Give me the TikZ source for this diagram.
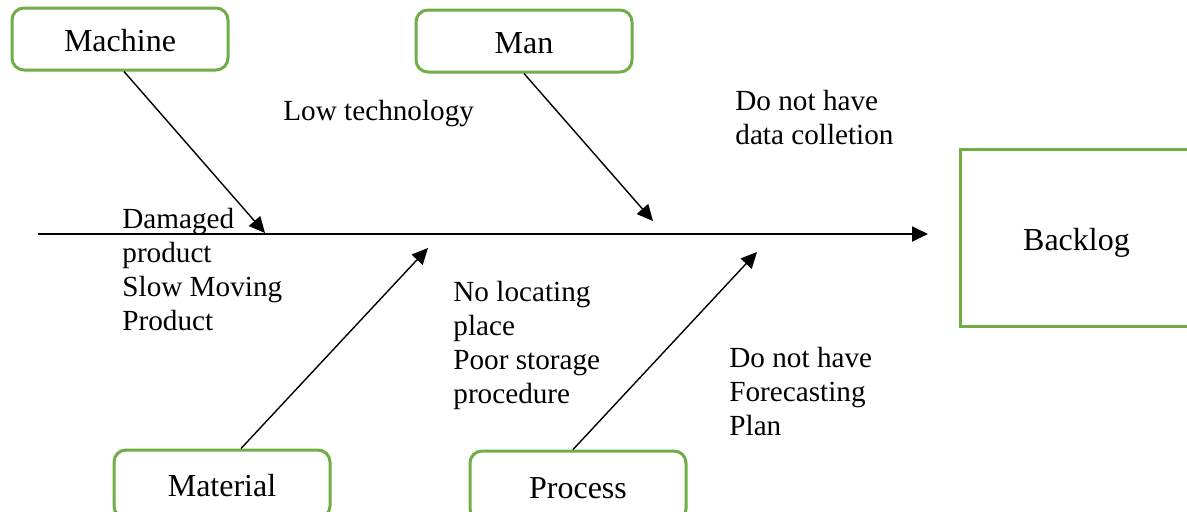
\documentclass[tikz,border=0pt]{standalone}
\usepackage{fontspec}
\setmainfont{Liberation Serif}
\usetikzlibrary{arrows.meta}

\definecolor{boxgreen}{RGB}{112,173,71}

\tikzset{
    cause/.style={draw=boxgreen,line width=1.5pt,rounded corners=6pt,
        minimum width=108pt,minimum height=31pt,inner sep=0pt,
        text height=12pt,text depth=0pt,font=\fontsize{16}{17}\selectfont},
    effect/.style={draw=boxgreen,line width=1.5pt,
        minimum width=116pt,minimum height=88.5pt,inner sep=0pt,
        text height=12pt,text depth=0pt,font=\fontsize{16}{17}\selectfont},
    note/.style={anchor=west,align=left,inner sep=0pt,font=\fontsize{14.6}{17}\selectfont},
    bone/.style={line width=0.7pt,-{Triangle[length=8pt,width=7.5pt]}}
}

\begin{document}
\begin{tikzpicture}[x=0.5pt,y=-0.5pt]

\clip (0,0) rectangle (1187,511);

% Boxes
\node[cause] (machine) at (120,39) {Machine};
\node[cause] (man) at (524,41) {Man};
\node[cause,minimum height=34pt] (material) at (222,484) {Material};
\node[cause,minimum height=35pt] (process) at (578,486) {Process};
\node[effect,anchor=north west] (backlog) at (959,148) {Backlog};

% Spine
\coordinate (tail) at (38,234);
\draw[bone,line width=0.9pt] (tail) -- ([xshift=-15.5pt]backlog.west |- tail);

% Bones
\coordinate (machineend) at (265,233);
\coordinate (manend) at (653,221);
\coordinate (materialend) at (428,248);
\coordinate (processend) at (757,252);
\draw[bone] ([xshift=2pt]machine.south) -- (machineend);
\draw[bone] (man.south) -- (manend);
\draw[bone] ([xshift=9.5pt]material.north) -- (materialend);
\draw[bone] ([xshift=-2.5pt]process.north) -- (processend);

% Notes
\node[note] (lowtech) at (283,114) {Low technology};
\node[note] (datanote) at (735,117) {Do not have\\data colletion};
\node[note] (damaged) at (122,269) {Damaged\\product\\Slow Moving\\Product};
\node[note] (storage) at (453,345) {No locating\\place\\Poor storage\\procedure};
\node[note] (forecast) at (729,391) {Do not have\\Forecasting\\Plan};

\end{tikzpicture}
\end{document}
